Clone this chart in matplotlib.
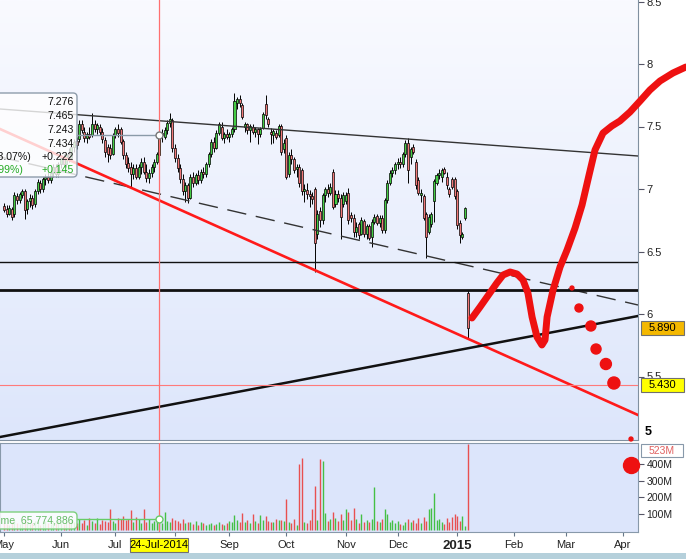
import matplotlib
matplotlib.use('Agg')
import matplotlib.pyplot as plt
from matplotlib.patches import FancyBboxPatch, Rectangle
from matplotlib.colors import LinearSegmentedColormap
import numpy as np
import pandas as pd

plt.rcParams['font.family'] = ['Liberation Sans', 'DejaVu Sans']

# ---- daily candles, trading day 0 = 1-May-2014, last = day 179 (Jan 2015)
opens = [6.86, 6.84, 6.80, 6.84, 6.80, 6.94, 6.91, 6.95, 6.98, 6.84,
         6.90, 6.93, 6.88, 6.98, 7.05, 7.00, 7.08, 7.10, 7.07, 7.13,
         7.18, 7.12, 7.20, 7.25, 7.20, 7.28, 7.25, 7.34, 7.38, 7.40,
         7.52, 7.46, 7.41, 7.44, 7.43, 7.52, 7.48, 7.50, 7.46, 7.39,
         7.34, 7.33, 7.28, 7.43, 7.48, 7.48, 7.38, 7.27, 7.21, 7.18,
         7.12, 7.17, 7.10, 7.18, 7.22, 7.14, 7.09, 7.13, 7.18, 7.22,
         7.276, 7.43, 7.42, 7.47, 7.53, 7.55, 7.33, 7.25, 7.17, 7.08,
         6.98, 7.03, 6.93, 7.10, 7.05, 7.11, 7.07, 7.14, 7.12, 7.20,
         7.28, 7.38, 7.33, 7.45, 7.50, 7.41, 7.44, 7.42, 7.44, 7.48,
         7.69, 7.72, 7.67, 7.50, 7.52, 7.47, 7.50, 7.46, 7.48, 7.44,
         7.49, 7.68, 7.56, 7.46, 7.43, 7.45, 7.43, 7.50, 7.32, 7.41,
         7.12, 7.27, 7.24, 7.16, 7.18, 7.15, 6.98, 6.99, 6.96, 6.94,
         7.00, 6.64, 6.82, 6.75, 6.95, 7.00, 6.97, 7.14, 6.88, 6.96,
         6.93, 6.88, 6.90, 6.97, 6.79, 6.77, 6.66, 6.72, 6.64, 6.74,
         6.64, 6.70, 6.62, 6.74, 6.78, 6.73, 6.77, 6.67, 6.91, 7.05,
         7.13, 7.15, 7.20, 7.22, 7.20, 7.28, 7.37, 7.26, 7.34, 7.22,
         7.07, 6.95, 6.94, 6.80, 6.66, 6.72, 6.90, 7.05, 7.11, 7.10,
         7.16, 7.10, 7.00, 7.08, 7.08, 6.98, 6.73, 6.62, 6.77, 6.17]
highs = [6.89, 6.87, 6.87, 6.86, 6.98, 6.97, 6.98, 7.00, 7.00, 6.92,
         6.96, 6.95, 7.00, 7.08, 7.07, 7.10, 7.12, 7.14, 7.15, 7.20,
         7.20, 7.22, 7.27, 7.28, 7.30, 7.33, 7.36, 7.40, 7.42, 7.55,
         7.55, 7.50, 7.46, 7.50, 7.61, 7.55, 7.53, 7.52, 7.49, 7.42,
         7.36, 7.36, 7.45, 7.50, 7.52, 7.50, 7.40, 7.30, 7.26, 7.22,
         7.20, 7.20, 7.20, 7.25, 7.26, 7.20, 7.16, 7.20, 7.24, 7.30,
         7.465, 7.48, 7.50, 7.55, 7.61, 7.57, 7.36, 7.28, 7.20, 7.12,
         7.06, 7.05, 7.12, 7.14, 7.13, 7.15, 7.16, 7.18, 7.22, 7.30,
         7.40, 7.42, 7.47, 7.54, 7.54, 7.46, 7.48, 7.46, 7.50, 7.77,
         7.74, 7.75, 7.69, 7.54, 7.53, 7.52, 7.52, 7.50, 7.49, 7.50,
         7.62, 7.75, 7.58, 7.49, 7.48, 7.47, 7.52, 7.52, 7.40, 7.43,
         7.30, 7.32, 7.26, 7.20, 7.20, 7.17, 7.04, 7.05, 6.99, 6.98,
         7.02, 6.83, 6.86, 6.97, 7.02, 7.04, 7.05, 7.16, 6.99, 6.99,
         6.96, 6.98, 6.98, 7.01, 6.82, 6.80, 6.74, 6.74, 6.78, 6.76,
         6.72, 6.72, 6.76, 6.80, 6.80, 6.79, 6.79, 6.93, 7.07, 7.15,
         7.18, 7.22, 7.25, 7.26, 7.30, 7.39, 7.41, 7.34, 7.36, 7.24,
         7.10, 7.00, 6.96, 6.82, 6.80, 6.82, 7.08, 7.13, 7.16, 7.17,
         7.18, 7.14, 7.02, 7.10, 7.10, 7.00, 6.75, 6.66, 6.86, 6.19]
lows = [6.82, 6.78, 6.79, 6.75, 6.78, 6.88, 6.89, 6.93, 6.76, 6.80,
        6.86, 6.84, 6.86, 6.96, 6.97, 6.98, 7.03, 7.05, 7.05, 7.10,
        7.10, 7.10, 7.17, 7.18, 7.18, 7.22, 7.23, 7.30, 7.32, 7.38,
        7.45, 7.38, 7.37, 7.40, 7.42, 7.46, 7.44, 7.43, 7.37, 7.26,
        7.22, 7.24, 7.27, 7.41, 7.42, 7.36, 7.24, 7.17, 7.14, 7.02,
        7.08, 7.08, 7.08, 7.12, 7.12, 7.06, 7.05, 7.10, 7.14, 7.20,
        7.243, 7.38, 7.40, 7.44, 7.50, 7.30, 7.22, 7.14, 7.05, 6.95,
        6.90, 6.89, 6.92, 7.02, 7.03, 7.04, 7.05, 7.09, 7.10, 7.18,
        7.26, 7.30, 7.32, 7.43, 7.39, 7.37, 7.40, 7.38, 7.42, 7.46,
        7.64, 7.66, 7.56, 7.46, 7.44, 7.38, 7.44, 7.42, 7.36, 7.42,
        7.48, 7.56, 7.50, 7.36, 7.37, 7.40, 7.42, 7.27, 7.29, 7.08,
        7.10, 7.20, 7.13, 7.10, 7.02, 6.95, 6.90, 6.92, 6.86, 6.88,
        6.34, 6.60, 6.70, 6.72, 6.90, 6.94, 6.95, 6.84, 6.86, 6.90,
        6.60, 6.86, 6.88, 6.72, 6.74, 6.62, 6.62, 6.60, 6.63, 6.62,
        6.60, 6.59, 6.54, 6.72, 6.71, 6.70, 6.65, 6.65, 6.89, 7.03,
        7.10, 7.12, 7.16, 7.17, 7.18, 7.26, 7.05, 7.20, 7.28, 7.00,
        6.95, 6.90, 6.75, 6.45, 6.64, 6.70, 6.74, 7.03, 7.08, 7.06,
        7.12, 7.00, 6.94, 7.00, 6.92, 6.68, 6.57, 6.60, 6.75, 5.81]
closes = [6.83, 6.80, 6.85, 6.78, 6.95, 6.91, 6.96, 6.98, 6.83, 6.90,
          6.93, 6.87, 6.98, 7.06, 7.00, 7.08, 7.10, 7.07, 7.13, 7.18,
          7.12, 7.20, 7.25, 7.20, 7.28, 7.25, 7.34, 7.38, 7.35, 7.52,
          7.47, 7.41, 7.44, 7.42, 7.52, 7.48, 7.51, 7.46, 7.40, 7.30,
          7.28, 7.27, 7.43, 7.48, 7.45, 7.38, 7.27, 7.20, 7.17, 7.12,
          7.17, 7.10, 7.18, 7.22, 7.14, 7.09, 7.13, 7.18, 7.22, 7.28,
          7.434, 7.45, 7.47, 7.53, 7.56, 7.33, 7.25, 7.17, 7.08, 6.98,
          7.03, 6.93, 7.10, 7.05, 7.11, 7.07, 7.14, 7.12, 7.20, 7.28,
          7.38, 7.33, 7.45, 7.52, 7.41, 7.44, 7.42, 7.44, 7.48, 7.70,
          7.72, 7.69, 7.58, 7.52, 7.47, 7.50, 7.46, 7.48, 7.44, 7.48,
          7.60, 7.59, 7.52, 7.44, 7.46, 7.42, 7.50, 7.30, 7.37, 7.10,
          7.27, 7.24, 7.15, 7.18, 7.05, 6.98, 7.00, 6.96, 6.94, 6.92,
          6.57, 6.80, 6.75, 6.95, 7.00, 6.97, 7.02, 6.86, 6.96, 6.93,
          6.78, 6.95, 6.95, 6.75, 6.77, 6.66, 6.70, 6.63, 6.75, 6.64,
          6.70, 6.61, 6.74, 6.78, 6.73, 6.77, 6.67, 6.91, 7.05, 7.13,
          7.15, 7.20, 7.22, 7.20, 7.28, 7.37, 7.15, 7.32, 7.30, 7.03,
          6.97, 6.97, 6.77, 6.62, 6.78, 6.80, 7.06, 7.11, 7.13, 7.15,
          7.13, 7.03, 6.96, 7.02, 6.94, 6.71, 6.63, 6.64, 6.85, 5.89]
# volume in millions
volumes = [45, 38, 30, 52, 60, 41, 35, 48, 62, 40,
           36, 44, 55, 50, 32, 47, 58, 42, 38, 53,
           45, 61, 40, 35, 56, 48, 66, 52, 43, 70,
           45, 60, 30, 75, 55, 40, 72, 35, 62, 58,
           48, 125, 58, 40, 75, 70, 88, 62, 70, 120,
           52, 80, 68, 45, 125, 50, 70, 40, 55, 65,
           65.77, 42, 110, 58, 48, 75, 62, 55, 45, 68,
           40, 52, 46, 38, 57, 33, 48, 42, 30, 36,
           44, 28, 38, 50, 35, 30, 42, 55, 48, 94,
           60, 52, 106, 48, 62, 40, 95, 55, 45, 90,
           62, 85, 58, 48, 52, 70, 60, 62, 55, 190,
           48, 45, 66, 30, 400, 440, 50, 40, 62, 125,
           270, 60, 430, 420, 106, 55, 68, 110, 72, 58,
           98, 60, 125, 110, 62, 136, 70, 45, 95, 52,
           60, 48, 65, 260, 55, 52, 68, 125, 100, 50,
           62, 45, 58, 35, 30, 48, 70, 52, 60, 45,
           72, 40, 78, 55, 130, 136, 226, 60, 65, 50,
           35, 72, 48, 80, 100, 85, 55, 86, 24, 523]

cross_day = 60          # 24-Jul-2014
cross_close = 7.434
cross_volume = 65.77
level_543 = 5.43
hline_thin = 6.416
hline_thick = 6.192

x_left, x_right = -1.54, 244.8
upper_line = [7.64, 7.264]
dashed_line = [7.256, 6.072]
red_line = [7.48, 5.192]
rising_line = [5.016, 5.984]

# hand drawn forecast
hand_days = [180.7, 183.8, 187.6, 190.3, 192.7, 195.4, 198.1, 200.4, 202.3, 203.9,
             205.8, 207.7, 208.9, 209.7, 212.0, 214.7, 217.4, 220.5, 223.2, 225.9,
             228.2, 231.3, 234.7, 237.8, 241.7, 245.6, 249.4, 253.3, 258.3, 263.3]
hand_prices = [5.968, 6.056, 6.168, 6.248, 6.312, 6.336, 6.32, 6.272, 6.168, 5.976,
               5.816, 5.752, 5.792, 5.976, 6.192, 6.376, 6.512, 6.688, 6.872, 7.112,
               7.312, 7.448, 7.504, 7.544, 7.616, 7.704, 7.792, 7.864, 7.928, 7.976]
dot_days = [219.3, 222.0, 226.6, 228.6, 232.4, 235.5, 242.1]
dot_prices = [6.208, 6.048, 5.904, 5.72, 5.6, 5.448, 5.0]
dot_sizes = [8, 33, 52, 52, 63, 75, 8]
big_dot_day, big_dot_vol = 242.1, 394

W, H = 686, 559
fig = plt.figure(figsize=(W / 100, H / 100), dpi=100, facecolor='white')
ax = fig.add_axes([0, 1 - 440 / H, 638 / W, 440 / H])
axv = fig.add_axes([0, 1 - 531.5 / H, 638 / W, 88.5 / H])

ymin, ymax = 4.992, 8.512
vmin, vmax = -8.8, 529.4

# backgrounds
grad = LinearSegmentedColormap.from_list('bg', ['#dde6fb', '#f9faff'])
ax.imshow(np.linspace(0, 1, 256).reshape(-1, 1), cmap=grad, origin='lower',
          extent=(x_left, x_right, ymin, ymax), aspect='auto', zorder=0)
axv.set_facecolor('#dce5fb')

days = np.arange(len(closes))
o = np.array(opens); c = np.array(closes)
up = c >= o
body_col = np.where(up, '#44cc44', '#f07878').astype(object)
body_col[cross_day] = '#dd9030'

# candles
ax.vlines(days, lows, highs, color='black', lw=0.7, zorder=2)
ax.bar(days, np.maximum(np.abs(c - o), 0.006), bottom=np.minimum(o, c), width=0.78,
       color=body_col, edgecolor='black', linewidth=0.5, zorder=3)

# lines
xs = [x_left, x_right]
ax.plot(xs, upper_line, color='#333333', lw=1.0, zorder=4)
ax.plot(xs, dashed_line, color='#333333', lw=1.0, ls=(0, (14, 7)), zorder=4)
ax.plot(xs, red_line, color='#ff1a1a', lw=1.9, zorder=4)
ax.plot(xs, rising_line, color='#111111', lw=1.8, zorder=4)
ax.axhline(hline_thin, color='#111111', lw=1.0, zorder=4)
ax.axhline(hline_thick, color='#111111', lw=2.0, zorder=4)
ax.axhline(level_543, color='#ff7a7a', lw=0.8, zorder=4)
ax.axvline(cross_day, color='#ff7070', lw=0.9, zorder=4)
axv.axvline(cross_day, color='#ff7070', lw=0.9, zorder=4)
ax.plot([28.2, cross_day], [cross_close, cross_close], color='#8a9aa8', lw=1.0, zorder=6)
ax.plot([cross_day], [cross_close], 'o', ms=5, mfc='white', mec='#777777', mew=1, zorder=7)

# hand drawing
ax.plot(hand_days, hand_prices, color='#ee1111', lw=5, solid_capstyle='round',
        solid_joinstyle='round', clip_on=False, zorder=8)
ax.scatter(dot_days, dot_prices, s=dot_sizes, color='#ee1111', clip_on=False, zorder=8)
axv.scatter([big_dot_day], [big_dot_vol], s=132, color='#ee1111', clip_on=False, zorder=8)

# volume
vcol = np.where(up, '#44c044', '#e85050')
axv.vlines(days, 0, volumes, colors=vcol, lw=1.0, zorder=2)
axv.plot([28.2, cross_day], [cross_volume, cross_volume], color='#66cc66', lw=1.0, zorder=6)
axv.plot([cross_day], [cross_volume], 'o', ms=5, mfc='white', mec='#66cc66', mew=1, zorder=7)

for a in (ax, axv):
    a.set_xlim(x_left, x_right)
ax.set_ylim(ymin, ymax)
axv.set_ylim(vmin, vmax)

# axes styling
for s in ('top', 'left'):
    ax.spines[s].set_visible(False)
ax.spines['right'].set_color('#8090a0')
ax.spines['bottom'].set_color('#8090a0')
for s in axv.spines.values():
    s.set_color('#8899aa')

ax.yaxis.tick_right()
ax.set_yticks([5.5, 6, 6.5, 7, 7.5, 8, 8.5])
ax.set_yticklabels(['5.5', '6', '6.5', '7', '7.5', '8', '8.5'])
ax.tick_params(axis='y', direction='out', length=4, width=0.8, colors='#555566',
               labelcolor='#222222', labelsize=8, pad=2)
ax.set_xticks([])

axv.yaxis.tick_right()
axv.set_yticks([100, 200, 300, 400])
axv.set_yticklabels(['100M', '200M', '300M', '400M'])
axv.tick_params(axis='y', direction='out', length=4, width=0.8, colors='#555566',
                labelcolor='#222222', labelsize=7.5, pad=2)

dates = pd.bdate_range('2014-05-01', periods=250)
month_idx = [0] + [i for i in range(1, len(dates)) if dates[i].month != dates[i - 1].month]
month_idx = [i for i in month_idx if i <= x_right]
# August sits under the crosshair date box, so its label is left blank
month_lab = []
for i in month_idx:
    if dates[i].month == 1:
        month_lab.append('2015')
    elif dates[i].month == 8:
        month_lab.append('')
    else:
        month_lab.append(dates[i].strftime('%b'))
axv.set_xticks(month_idx)
axv.set_xticklabels(month_lab)
axv.tick_params(axis='x', direction='out', length=3, width=0.8, colors='#667788',
                labelcolor='#222222', labelsize=8, pad=3)
for t in axv.get_xticklabels():
    if t.get_text() == '2015':
        t.set_fontweight('bold')
        t.set_fontsize(9.5)


# overlays in pixel coordinates
def fx(x):
    return x / W


def fy(y):
    return 1 - y / H


def pbox(x0, y0, x1, y1, fc, ec, rounded=False, lw=0.8):
    if rounded:
        p = FancyBboxPatch((x0 / 100, (H - y1) / 100), (x1 - x0) / 100, (y1 - y0) / 100,
                           boxstyle='round,pad=0,rounding_size=0.04', transform=fig.dpi_scale_trans,
                           fc=fc, ec=ec, lw=lw, zorder=10)
    else:
        p = Rectangle((x0 / 100, (H - y1) / 100), (x1 - x0) / 100, (y1 - y0) / 100,
                      transform=fig.dpi_scale_trans, fc=fc, ec=ec, lw=lw, zorder=10)
    fig.add_artist(p)


# tooltip
pbox(-6, 93, 77, 177, (1, 1, 1, 0.8), '#8e9cab', rounded=True, lw=1.0)
for txt, yy in [('7.276', 102), ('7.465', 116), ('7.243', 130), ('7.434', 144), ('+0.222', 157)]:
    fig.text(fx(74), fy(yy), txt, ha='right', va='center', fontsize=7.6, color='#111111', zorder=11)
fig.text(fx(74), fy(170), '+0.145', ha='right', va='center', fontsize=7.6, color='#22aa22', zorder=11)
fig.text(fx(31), fy(157), '(3.07%)', ha='right', va='center', fontsize=7.6, color='#111111', zorder=11)
fig.text(fx(23), fy(170), '(1.99%)', ha='right', va='center', fontsize=7.6, color='#22aa22', zorder=11)

# volume readout
pbox(-6, 512, 77, 529, (1, 1, 1, 0.85), '#7fd07f', rounded=True, lw=1.0)
fig.text(fx(74), fy(520.5), 'Volume  65,774,886', ha='right', va='center', fontsize=7.6,
         color='#66bb66', zorder=11)

# right side labels
pbox(641, 321, 684, 335, '#f4b800', '#707070')
fig.text(fx(662.5), fy(328), '5.890', ha='center', va='center', fontsize=8, zorder=11)
pbox(641, 378, 684, 392, '#ffff00', '#707070')
fig.text(fx(662.5), fy(385), '5.430', ha='center', va='center', fontsize=8, zorder=11)
pbox(641, 444, 683, 457, 'white', '#8899aa')
fig.text(fx(662), fy(450.5), '523M', ha='center', va='center', fontsize=7.5, color='#e06060', zorder=11)
fig.text(fx(645), fy(432), '5', ha='left', va='center', fontsize=9, fontweight='bold', zorder=11)

# crosshair date
pbox(130, 538, 188, 552, '#ffff00', '#707070')
fig.text(fx(159), fy(545), '24-Jul-2014', ha='center', va='center', fontsize=8, zorder=11)

# bottom strip
fig.add_artist(Rectangle((0, 0), 1, 6 / H, transform=fig.transFigure, fc='#b5d0db', ec='none'))

fig.savefig('out.png', dpi=100)
